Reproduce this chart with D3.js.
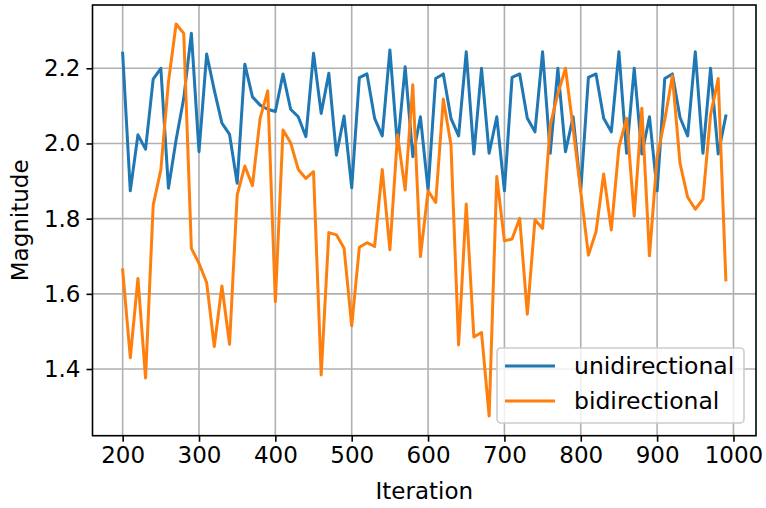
<!DOCTYPE html>
<html>
<head>
<meta charset="utf-8">
<script src="https://cdn.jsdelivr.net/npm/d3@7"></script>
<style>
  body { margin: 0; background: #fff; }
  text { font-family: "DejaVu Sans", sans-serif; fill: #000; }
</style>
</head>
<body>
<svg id="chart" width="766" height="508"></svg>
<script>
// iterations 200..990, every 10
var iterations = [200,210,220,230,240,250,260,270,280,290,300,310,320,330,340,350,360,370,380,390,
    400,410,420,430,440,450,460,470,480,490,500,510,520,530,540,550,560,570,580,590,
    600,610,620,630,640,650,660,670,680,690,700,710,720,730,740,750,760,770,780,790,
    800,810,820,830,840,850,860,870,880,890,900,910,920,930,940,950,960,970,980,990];

var unidirectional = [2.240,1.874,2.023,1.985,2.171,2.200,1.881,2.010,2.120,2.293,
    1.978,2.238,2.142,2.054,2.024,1.894,2.211,2.124,2.102,2.091,
    2.085,2.185,2.091,2.071,2.018,2.240,2.080,2.187,1.969,2.073,
    1.882,2.175,2.185,2.067,2.020,2.249,1.991,2.204,1.965,2.071,
    1.876,2.173,2.185,2.067,2.020,2.244,1.972,2.200,1.974,2.071,
    1.874,2.176,2.185,2.067,2.031,2.244,1.974,2.200,1.978,2.071,
    1.874,2.176,2.185,2.067,2.031,2.244,1.974,2.200,1.972,2.071,
    1.874,2.173,2.185,2.069,2.020,2.244,1.974,2.200,1.972,2.073];

var bidirectional = [1.664,1.430,1.641,1.376,1.836,1.930,2.164,2.318,2.293,1.721,
    1.681,1.630,1.460,1.621,1.466,1.863,1.940,1.888,2.067,2.140,
    1.579,2.036,2.002,1.931,1.907,1.925,1.384,1.763,1.757,1.721,
    1.515,1.724,1.736,1.726,1.931,1.717,2.023,1.876,2.156,1.699,
    1.874,1.843,2.118,1.996,1.464,1.839,1.485,1.497,1.275,1.912,
    1.741,1.746,1.801,1.546,1.797,1.774,2.049,2.132,2.200,2.040,
    1.872,1.703,1.765,1.919,1.770,1.991,2.067,1.807,2.094,1.701,
    1.965,2.063,2.180,1.947,1.857,1.825,1.852,2.076,2.173,1.637];

var xTicks = [200,300,400,500,600,700,800,900,1000];
var yTicks = [1.4,1.6,1.8,2.0,2.2];

var seriesNames = ["unidirectional", "bidirectional"];
var seriesColors = ["#1f77b4", "#ff7f0e"];

function drawChart() {
    var svg = d3.select("#chart");

    var plotLeft = 92.5, plotRight = 756, plotTop = 5, plotBottom = 435.7;

    var x = d3.scaleLinear().domain([160.5, 1029.5]).range([plotLeft, plotRight]);
    var y = d3.scaleLinear().domain([1.2226, 2.3684]).range([plotBottom, plotTop]);

    // grid
    var grid = svg.append("g").attr("stroke", "#b0b0b0").attr("stroke-width", 1.6);
    grid.selectAll(".gx").data(xTicks).join("line")
        .attr("class", "gx")
        .attr("x1", d => x(d)).attr("x2", d => x(d))
        .attr("y1", plotTop).attr("y2", plotBottom);
    grid.selectAll(".gy").data(yTicks).join("line")
        .attr("class", "gy")
        .attr("x1", plotLeft).attr("x2", plotRight)
        .attr("y1", d => y(d)).attr("y2", d => y(d));

    // lines
    var series = [unidirectional, bidirectional];
    var line = d3.line()
        .x((d, i) => x(iterations[i]))
        .y(d => y(d));

    svg.append("g").selectAll("path")
        .data(series)
        .join("path")
        .attr("fill", "none")
        .attr("stroke", (d, i) => seriesColors[i])
        .attr("stroke-width", 3)
        .attr("stroke-linejoin", "round")
        .attr("stroke-linecap", "square")
        .attr("d", line);

    // axes
    var xAxis = d3.axisBottom(x).tickValues(xTicks).tickSize(6).tickPadding(5).tickFormat(d3.format("d"));
    var yAxis = d3.axisLeft(y).tickValues(yTicks).tickSize(6).tickPadding(6).tickFormat(d3.format(".1f"));

    var gx = svg.append("g").attr("transform", `translate(0,${plotBottom})`).call(xAxis);
    var gy = svg.append("g").attr("transform", `translate(${plotLeft},0)`).call(yAxis);
    [gx, gy].forEach(g => {
        g.select(".domain").remove();
        g.selectAll(".tick line").attr("stroke", "#000").attr("stroke-width", 1.6);
        g.selectAll(".tick text").attr("font-size", 23).attr("font-family", "DejaVu Sans").attr("fill", "#000");
    });

    // spines
    svg.append("rect")
        .attr("x", plotLeft).attr("y", plotTop)
        .attr("width", plotRight - plotLeft).attr("height", plotBottom - plotTop)
        .attr("fill", "none").attr("stroke", "#000").attr("stroke-width", 1.6);

    // axis labels
    svg.append("text")
        .attr("x", (plotLeft + plotRight) / 2).attr("y", 499)
        .attr("text-anchor", "middle").attr("font-size", 23)
        .text("Iteration");

    svg.append("text")
        .attr("transform", `translate(28,${(plotTop + plotBottom) / 2}) rotate(-90)`)
        .attr("text-anchor", "middle").attr("font-size", 23)
        .text("Magnitude");

    // legend
    var legend = svg.append("g").attr("transform", "translate(497,348)");
    legend.append("rect")
        .attr("width", 247).attr("height", 75).attr("rx", 4)
        .attr("fill", "#fff").attr("fill-opacity", 0.8)
        .attr("stroke", "#cccccc").attr("stroke-width", 1.6);

    var items = legend.selectAll(".item").data(seriesNames).join("g")
        .attr("class", "item")
        .attr("transform", (d, i) => `translate(0,${18 + i * 35})`);
    items.append("line")
        .attr("x1", 8).attr("x2", 58)
        .attr("stroke", (d, i) => seriesColors[i]).attr("stroke-width", 3);
    items.append("text")
        .attr("x", 77).attr("y", 8)
        .attr("font-size", 23.5)
        .text(d => d);
}

drawChart();
</script>
</body>
</html>
